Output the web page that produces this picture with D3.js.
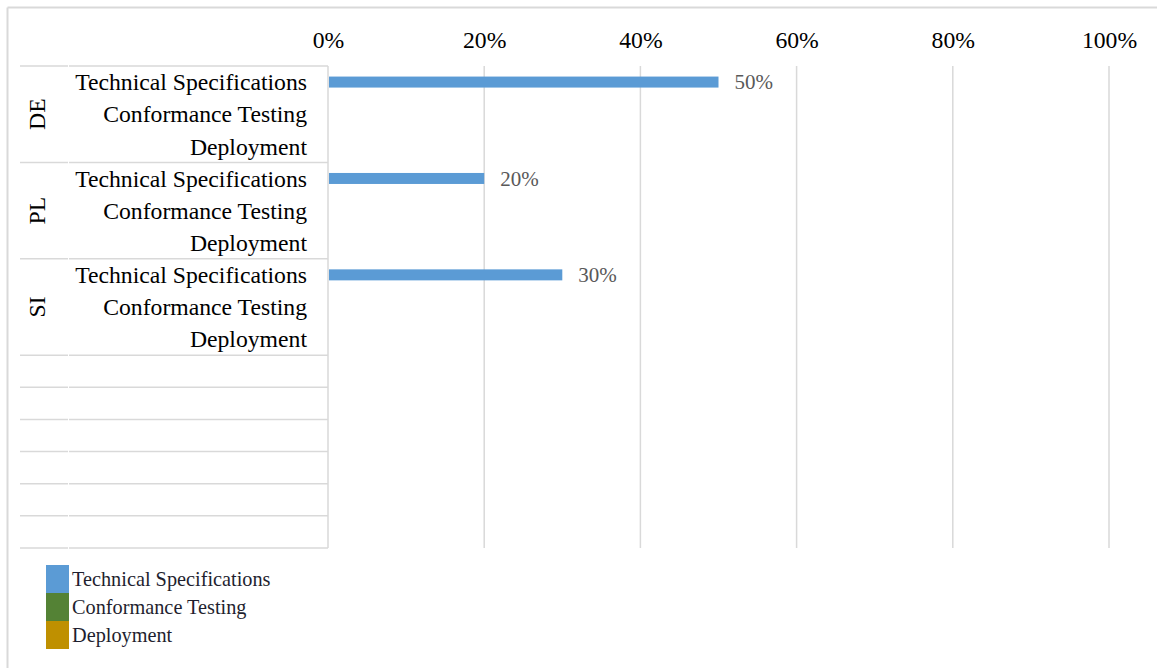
<!DOCTYPE html>
<html><head><meta charset="utf-8">
<script src="https://cdn.jsdelivr.net/npm/d3@7"></script>
<style>body{margin:0;background:#fff;}svg{display:block;}
svg text{font-family:"Liberation Serif","Times New Roman",Tinos,"DejaVu Serif",serif;}
</style>
</head><body>
<svg id="c" width="1157" height="668"></svg>
<script>
const countries = ["DE", "PL", "SI"];
const subCategories = ["Technical Specifications", "Conformance Testing", "Deployment"];
const emptyRows = 6;
const seriesNames = ["Technical Specifications", "Conformance Testing", "Deployment"];
const seriesColors = ["#5B9BD5", "#548235", "#BF9000"];
// values per country for the Technical Specifications row
const techSpecValues = [0.5, 0.2, 0.3];
const tickValues = [0, 0.2, 0.4, 0.6, 0.8, 1.0];

const svg = d3.select("#c");

// outer frame (cropped)
svg.append("line").attr("x1",7.5).attr("x2",1157).attr("y1",7.5).attr("y2",7.5).attr("stroke","#d9d9d9").attr("stroke-width",2);
svg.append("line").attr("x1",7.5).attr("x2",7.5).attr("y1",7.5).attr("y2",668).attr("stroke","#d9d9d9").attr("stroke-width",2);

// rows
const rows = [];
countries.forEach(c => subCategories.forEach(s => rows.push({country:c, sub:s, key:c+"|"+s})));
for (let i=0;i<emptyRows;i++) rows.push({country:"", sub:"", key:"empty"+i});

const x = d3.scaleLinear().domain([0,1]).range([328,1109]);
const y = d3.scaleBand().domain(rows.map(r=>r.key)).range([66,548]);

// gridlines
const gx = svg.append("g");
gx.selectAll("line").data(tickValues.slice(1)).join("line")
  .attr("x1",d=>x(d)).attr("x2",d=>x(d)).attr("y1",66).attr("y2",548)
  .attr("stroke","#d9d9d9").attr("stroke-width",1.5);

// top axis labels
const axis = d3.axisTop(x).tickValues(tickValues).tickFormat(d3.format(".0%")).tickSize(0).tickPadding(0);
const ag = svg.append("g").attr("transform","translate(0,48)").call(axis);
ag.select(".domain").remove();
ag.selectAll("text").attr("font-family",null).attr("font-size","23.7px").attr("fill","#000");
ag.attr("font-family",null).attr("font-size",null);

// category table lines
const boundaries = [];
countries.forEach((c,i)=>{ boundaries.push(y(c+"|"+subCategories[0])); });
rows.slice(countries.length*subCategories.length).forEach(r=>boundaries.push(y(r.key)));
boundaries.push(548);
const tl = svg.append("g");
tl.selectAll("line.a").data(boundaries).join("line").attr("class","a")
  .attr("x1",20).attr("x2",68).attr("y1",d=>d).attr("y2",d=>d)
  .attr("stroke","#d9d9d9").attr("stroke-width",1.5);
tl.selectAll("line.b").data(boundaries).join("line").attr("class","b")
  .attr("x1",69).attr("x2",328).attr("y1",d=>d).attr("y2",d=>d)
  .attr("stroke","#d9d9d9").attr("stroke-width",1.5);
// axis line
svg.append("line").attr("x1",x(0)).attr("x2",x(0)).attr("y1",66).attr("y2",548)
  .attr("stroke","#d9d9d9").attr("stroke-width",1.5);

// sub-category labels
svg.append("g").selectAll("text").data(rows.filter(r=>r.sub)).join("text")
  .attr("x",307).attr("y",r=>y(r.key)+y.bandwidth()/2).attr("dy","0.35em")
  .attr("text-anchor","end").attr("font-size","23.7px").attr("fill","#000")
  .text(r=>r.sub);

// country labels
svg.append("g").selectAll("text").data(countries).join("text")
  .attr("transform",c=>{
    const yc = y(c+"|"+subCategories[1]) + y.bandwidth()/2;
    return `translate(37,${yc}) rotate(-90)`;
  })
  .attr("dy","0.35em").attr("text-anchor","middle")
  .attr("font-size","23.7px").attr("fill","#000")
  .text(c=>c);

// bars
const barH = 11;
const barData = countries.map((c,i)=>({key:c+"|"+subCategories[0], v:techSpecValues[i]}));
svg.append("g").selectAll("rect").data(barData).join("rect")
  .attr("x",x(0)+1).attr("y",d=>y(d.key)+y.bandwidth()/2-barH/2)
  .attr("width",d=>x(d.v)-x(0)-1).attr("height",barH).attr("fill",seriesColors[0]);
svg.append("g").selectAll("text").data(barData).join("text")
  .attr("x",d=>x(d.v)+16).attr("y",d=>y(d.key)+y.bandwidth()/2).attr("dy","0.35em")
  .attr("font-size","21px").attr("fill","#595959")
  .text(d=>d3.format(".0%")(d.v));

// legend
const lg = svg.append("g").attr("transform","translate(46,565)");
const li = lg.selectAll("g").data(seriesNames).join("g").attr("transform",(d,i)=>`translate(0,${i*28})`);
li.append("rect").attr("width",23).attr("height",28).attr("fill",(d,i)=>seriesColors[i]);
li.append("text").attr("x",26).attr("y",14).attr("dy","0.35em")
  .attr("font-size","20.3px").attr("fill","#1f1f2f")
  .text(d=>d);
</script>
</body></html>
